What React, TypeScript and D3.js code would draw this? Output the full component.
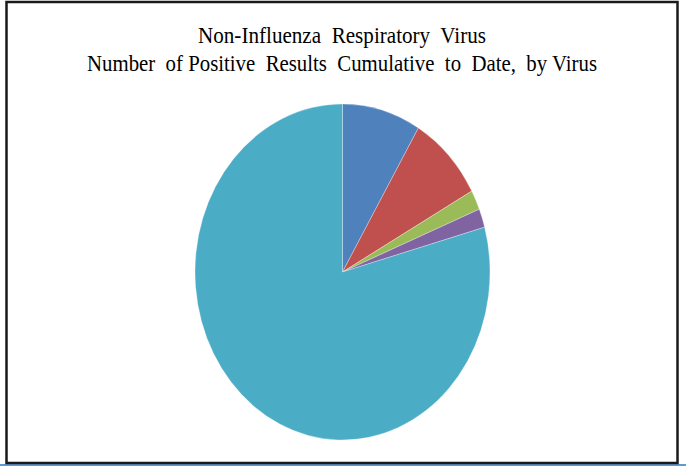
import { useEffect, useRef } from "react"
import * as d3 from "d3"

// values (share of positive results, approx.)
const viruses = ["Adenovirus", "Parainfluenza", "hMPV", "Coronavirus", "Rhinovirus/Enterovirus"]
const positives = [86, 84, 19, 18, 793]
const sliceColors = ["#4f81bd", "#c0504d", "#9bbb59", "#8064a2", "#4bacc6"]
const titleLines = ["Non-Influenza  Respiratory  Virus", "Number  of Positive  Results  Cumulative  to  Date,  by Virus"]

export default function App() {
  const svgRef = useRef<SVGSVGElement>(null)

  useEffect(() => {
    if (!svgRef.current) return
    const width = 686
    const height = 466
    const svg = d3.select(svgRef.current).attr("width", width).attr("height", height)
    svg.selectAll("*").remove()

    svg.append("rect").attr("width", width).attr("height", height).attr("fill", "#ffffff")

    // thin blue strip at the bottom edge
    svg.append("rect").attr("x", 0).attr("y", 464).attr("width", width).attr("height", 2).attr("fill", "#5b9bd5")

    // chart frame
    svg
      .append("rect")
      .attr("x", 6.5)
      .attr("y", 2)
      .attr("width", 671)
      .attr("height", 461)
      .attr("fill", "none")
      .attr("stroke", "#1a1a1a")
      .attr("stroke-width", 2.5)

    // title
    const titleY = [43, 71]
    const titleW = [288, 510]
    svg
      .selectAll(".title")
      .data(titleLines)
      .enter()
      .append("text")
      .attr("class", "title")
      .attr("x", 342)
      .attr("y", (_, i) => titleY[i])
      .attr("text-anchor", "middle")
      .attr("font-family", "'Liberation Serif', 'Times New Roman', serif")
      .attr("font-size", 23)
      .attr("fill", "#000")
      .attr("textLength", (_, i) => titleW[i])
      .attr("lengthAdjust", "spacingAndGlyphs")
      .style("white-space", "pre")
      .text((d) => d)

    // pie (elliptical, as in the source)
    const ry = 168
    const rx = 147.5
    const data = viruses.map((name, i) => ({ name, value: positives[i] }))
    const pie = d3
      .pie<{ name: string; value: number }>()
      .sort(null)
      .value((d) => d.value)
    const arc = d3.arc<d3.PieArcDatum<{ name: string; value: number }>>().innerRadius(0).outerRadius(ry)

    const g = svg.append("g").attr("transform", `translate(342.5,272) scale(${rx / ry},1)`)
    g.selectAll("path")
      .data(pie(data))
      .enter()
      .append("path")
      .attr("d", arc)
      .attr("fill", (_, i) => sliceColors[i])
      .attr("stroke", "#ffffff")
      .attr("stroke-opacity", 0.5)
      .attr("stroke-width", 0.6)
      .attr("vector-effect", "non-scaling-stroke")
  }, [])

  return (
    <div style={{ position: "fixed", left: 0, top: 0 }}>
      <svg ref={svgRef} style={{ display: "block" }} />
    </div>
  )
}
